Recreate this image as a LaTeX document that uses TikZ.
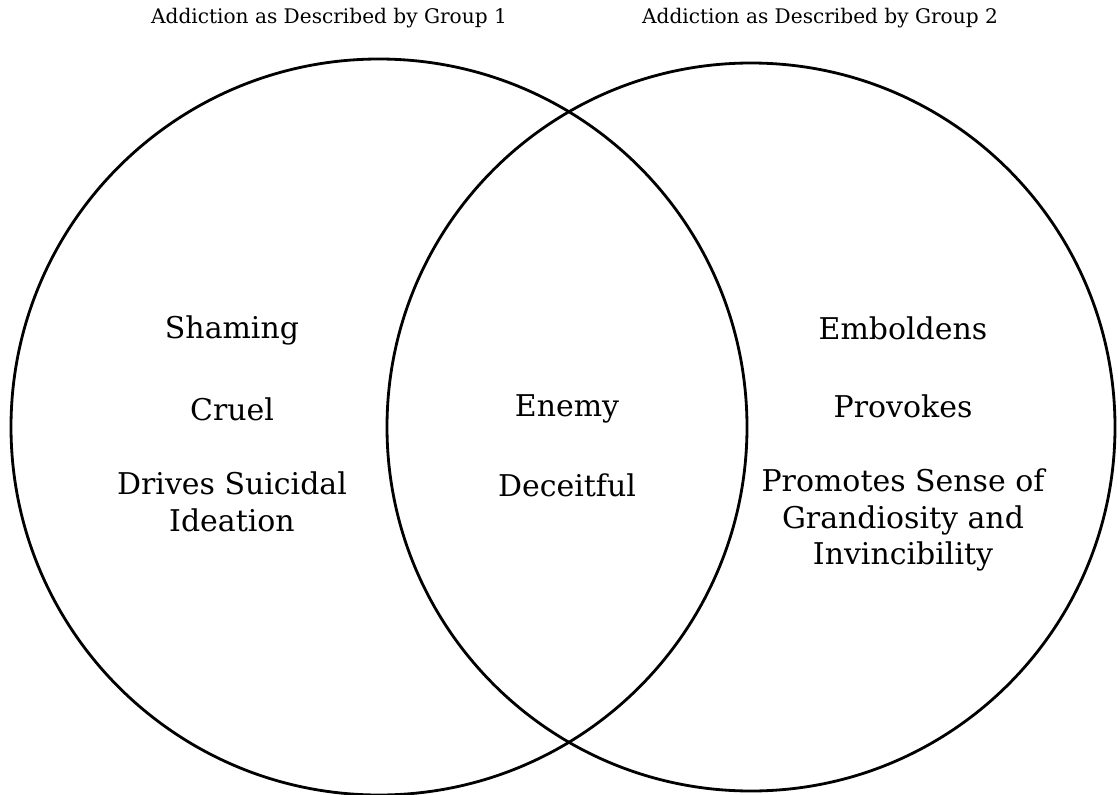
\documentclass[tikz,border=0pt]{standalone}
\usepackage{fontspec}
\setmainfont{DejaVu Serif}
\usepackage{tikz}

\tikzset{
  term/.style={align=center, inner sep=0pt, font=\fontsize{21.3}{26}\selectfont},
  heading/.style={inner sep=0pt, font=\fontsize{14.3}{17}\selectfont},
  ring/.style={line width=2pt}
}

\begin{document}
\begin{tikzpicture}[x=0.025cm, y=-0.025cm]
                    \useasboundingbox (0,0) rectangle (1118,795);
                    \draw [ring] (379,427) circle [radius=368];
                    \draw [ring] (751,427) circle [radius=364];
                    \node [heading] (headone) at (329,18) {Addiction as Described by Group 1};
                    \node [heading] (headtwo) at (820,18) {Addiction as Described by Group 2};
                    % group 1 only
                    \node [term] (shaming) at (232,330) {Shaming};
                    \node [term] (cruel) at (232,409) {Cruel};
                    \node [term] (suicidal) at (232,502) {Drives Suicidal\\Ideation};
                    % shared
                    \node [term] (enemy) at (567,409) {Enemy};
                    \node [term] (deceitful) at (567,485) {Deceitful};
                    % group 2 only
                    \node [term] (emboldens) at (903,328) {Emboldens};
                    \node [term] (provokes) at (903,406) {Provokes};
                    \node [term] (grandiosity) at (903,520) {Promotes Sense of\\Grandiosity and\\Invincibility};
                \end{tikzpicture}
\end{document}
